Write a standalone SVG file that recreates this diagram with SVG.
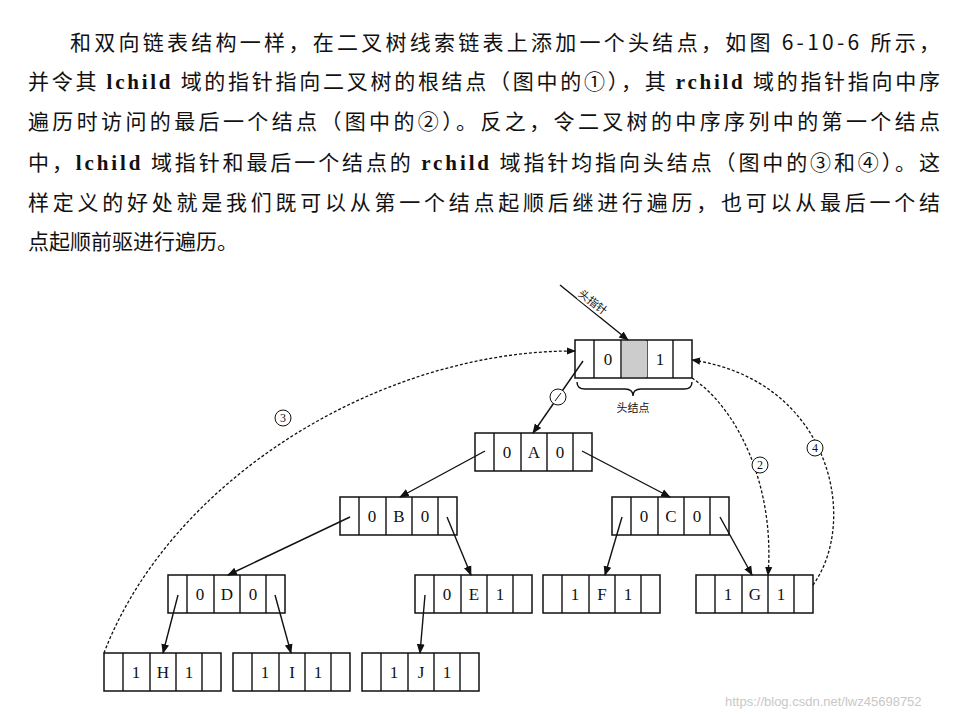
<svg xmlns="http://www.w3.org/2000/svg" width="976" height="717" viewBox="0 0 976 717">
<defs>
<style>
.p{font-family:"Noto Sans CJK SC","Liberation Serif",serif;font-size:21px;fill:#111}
.c{fill:#fff;stroke:#111;stroke-width:1.5}
.t{font-family:"Liberation Serif",serif;font-size:17px;fill:#111;text-anchor:middle}
.l{stroke:#111;stroke-width:1.4;fill:none}
.d{stroke:#111;stroke-width:1.3;fill:none;stroke-dasharray:3 2}
.s{font-family:"Noto Sans CJK SC",sans-serif;font-size:11px;fill:#111;text-anchor:middle}
.n{font-family:"Liberation Serif",serif;font-size:12px;fill:#111;text-anchor:middle}
</style>
<marker id="a" viewBox="0 0 10 10" refX="9" refY="5" markerWidth="7" markerHeight="7" orient="auto"><path d="M0,1 L10,5 L0,9 z" fill="#111"/></marker>
<g id="node">
<rect class="c" x="0" y="0" width="117" height="38"/>
<line class="l" x1="19" y1="0" x2="19" y2="38"/><line class="l" x1="46" y1="0" x2="46" y2="38"/>
<line class="l" x1="72" y1="0" x2="72" y2="38"/><line class="l" x1="98" y1="0" x2="98" y2="38"/>
</g>
</defs>
<rect width="976" height="717" fill="#fff"/>
<g id="text">
<text class="p" x="70" y="50" textLength="870">和双向链表结构一样，在二叉树线索链表上添加一个头结点，如图 6-10-6 所示，</text>
<text class="p" x="28" y="89" textLength="912">并令其 <tspan font-weight="bold" font-family="Liberation Serif">lchild</tspan> 域的指针指向二叉树的根结点（图中的①），其 <tspan font-weight="bold" font-family="Liberation Serif">rchild</tspan> 域的指针指向中序</text>
<text class="p" x="28" y="129" textLength="912">遍历时访问的最后一个结点（图中的②）。反之，令二叉树的中序序列中的第一个结点</text>
<text class="p" x="28" y="170" textLength="912">中，<tspan font-weight="bold" font-family="Liberation Serif">lchild</tspan> 域指针和最后一个结点的 <tspan font-weight="bold" font-family="Liberation Serif">rchild</tspan> 域指针均指向头结点（图中的③和④）。这</text>
<text class="p" x="28" y="210" textLength="912">样定义的好处就是我们既可以从第一个结点起顺后继进行遍历，也可以从最后一个结</text>
<text class="p" x="28" y="249">点起顺前驱进行遍历。</text>
</g>
<g id="head">
<use href="#node" x="575" y="340"/>
<rect x="622" y="341" width="25" height="36" fill="#ccc"/>
<text class="t" x="608" y="365">0</text><text class="t" x="660" y="365">1</text>
<path class="l" d="M577,382 q0,7 8,7 h40 q8,0 8,7 q0,-7 8,-7 h43 q8,0 8,-7" stroke-width="1"/>
<text class="s" x="633" y="412">头结点</text>
</g>
<g id="A"><use href="#node" x="475" y="433"/><text class="t" x="507" y="458">0</text><text class="t" x="534" y="458">A</text><text class="t" x="560" y="458">0</text></g>
<g id="B"><use href="#node" x="340" y="497"/><text class="t" x="372" y="522">0</text><text class="t" x="399" y="522">B</text><text class="t" x="425" y="522">0</text></g>
<g id="C"><use href="#node" x="612" y="497"/><text class="t" x="644" y="522">0</text><text class="t" x="671" y="522">C</text><text class="t" x="697" y="522">0</text></g>
<g id="D"><use href="#node" x="168" y="575"/><text class="t" x="200" y="600">0</text><text class="t" x="227" y="600">D</text><text class="t" x="253" y="600">0</text></g>
<g id="E"><use href="#node" x="415" y="575"/><text class="t" x="447" y="600">0</text><text class="t" x="474" y="600">E</text><text class="t" x="500" y="600">1</text></g>
<g id="F"><use href="#node" x="543" y="575"/><text class="t" x="575" y="600">1</text><text class="t" x="602" y="600">F</text><text class="t" x="628" y="600">1</text></g>
<g id="G"><use href="#node" x="696" y="575"/><text class="t" x="728" y="600">1</text><text class="t" x="755" y="600">G</text><text class="t" x="781" y="600">1</text></g>
<g id="H"><use href="#node" x="104" y="653"/><text class="t" x="136" y="678">1</text><text class="t" x="163" y="678">H</text><text class="t" x="189" y="678">1</text></g>
<g id="I"><use href="#node" x="233" y="653"/><text class="t" x="265" y="678">1</text><text class="t" x="292" y="678">I</text><text class="t" x="318" y="678">1</text></g>
<g id="J"><use href="#node" x="362" y="653"/><text class="t" x="394" y="678">1</text><text class="t" x="421" y="678">J</text><text class="t" x="447" y="678">1</text></g>
<g id="connectors">
<path class="l" d="M560,285 L628,340" marker-end="url(#a)"/>
<rect x="578" y="295" width="30" height="14" fill="#fff" transform="rotate(38 593 302)"/>
<text class="s" x="593" y="306" transform="rotate(38 593 302)">头指针</text>
<path class="l" d="M583,361 L533,433" marker-end="url(#a)"/>
<circle cx="558" cy="397" r="8" fill="#fff" stroke="#111" stroke-width="1"/><line x1="555" y1="401" x2="561" y2="393" stroke="#111" stroke-width="1"/>
<path class="l" d="M485,451 L400,497" marker-end="url(#a)"/>
<path class="l" d="M582,451 L670,497" marker-end="url(#a)"/>
<path class="l" d="M350,517 L228,575" marker-end="url(#a)"/>
<path class="l" d="M447,517 L471,575" marker-end="url(#a)"/>
<path class="l" d="M622,517 L605,575" marker-end="url(#a)"/>
<path class="l" d="M720,517 L752,575" marker-end="url(#a)"/>
<path class="l" d="M178,595 L163,653" marker-end="url(#a)"/>
<path class="l" d="M275,595 L291,653" marker-end="url(#a)"/>
<path class="l" d="M425,595 L420,653" marker-end="url(#a)"/>
<path class="d" d="M104,653 C170,480 380,350 575,351" marker-end="url(#a)"/>
<path class="d" d="M692,378 C740,410 775,490 768,575" marker-end="url(#a)"/>
<path class="d" d="M813,585 C860,520 830,380 692,360" marker-end="url(#a)"/>
<circle cx="283" cy="418" r="8" fill="#fff" stroke="#111" stroke-width="1"/><text class="n" x="283" y="422">3</text>
<circle cx="760" cy="465" r="8" fill="#fff" stroke="#111" stroke-width="1"/><text class="n" x="760" y="469">2</text>
<circle cx="815" cy="448" r="8" fill="#fff" stroke="#111" stroke-width="1"/><text class="n" x="815" y="452">4</text>
</g>
<text x="725" y="706" font-family="Liberation Sans,sans-serif" font-size="13" fill="#c8c8c8">https://blog.csdn.net/lwz45698752</text>
</svg>
